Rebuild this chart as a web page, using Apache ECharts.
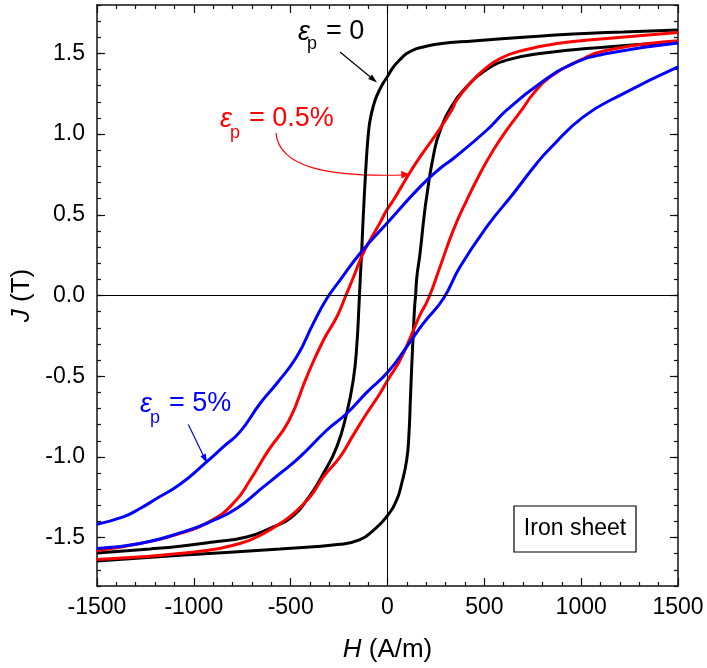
<!DOCTYPE html>
<html>
<head>
<meta charset="utf-8">
<script src="https://cdn.jsdelivr.net/npm/echarts@6/dist/echarts.min.js"></script>
<style>
  html, body { margin: 0; padding: 0; background: #fff; }
  #chart { width: 707px; height: 668px; }
</style>
</head>
<body>
<div id="chart"></div>
<script>
// J(H) loops of the iron sheet (H in A/m, J in T)
var blackDownH = [1500, 1218, 959, 701, 443, 271, 185, 151, 99, 65, 30, 4, -30, -56, -73, -90, -99, -107, -116, -121, -128, -133, -140, -146, -159, -177, -211, -262, -331, -417, -503, -590, -727, -899, -1071, -1226, -1500];
var blackDownJ = [1.645, 1.633, 1.620, 1.600, 1.577, 1.560, 1.540, 1.530, 1.499, 1.462, 1.415, 1.365, 1.300, 1.235, 1.175, 1.086, 1.000, 0.880, 0.700, 0.590, 0.420, 0.280, 0.120, -0.030, -0.318, -0.525, -0.731, -0.938, -1.103, -1.268, -1.380, -1.434, -1.496, -1.527, -1.553, -1.570, -1.595];
var blackUpH = [-1500, -1071, -555, -245, -142, -73, -4, 47, 73, 99, 111, 118, 125, 133, 140, 145, 152, 168, 185, 202, 236, 271, 340, 409, 495, 615, 787, 1132, 1500];
var blackUpJ = [-1.645, -1.610, -1.570, -1.542, -1.513, -1.455, -1.370, -1.268, -1.165, -1.020, -0.855, -0.650, -0.442, -0.235, -0.070, 0.000, 0.120, 0.260, 0.450, 0.610, 0.860, 1.020, 1.190, 1.293, 1.386, 1.458, 1.499, 1.540, 1.571];

var redDownH = [1500, 1132, 874, 701, 581, 495, 426, 357, 331, 254, 168, 107, 30, -4, -39, -90, -130, -177, -215, -262, -331, -417, -510, -615, -710, -790, -910, -1090, -1278, -1500];
var redDownJ = [1.630, 1.592, 1.561, 1.520, 1.468, 1.396, 1.313, 1.210, 1.148, 1.004, 0.859, 0.745, 0.590, 0.529, 0.450, 0.343, 0.250, 0.110, 0.000, -0.133, -0.277, -0.504, -0.778, -0.960, -1.145, -1.280, -1.395, -1.482, -1.537, -1.582];
var redUpH = [-1500, -1020, -762, -641, -555, -486, -400, -331, -245, -177, -107, -39, 3, 65, 125, 168, 211, 271, 340, 409, 478, 546, 615, 692, 753, 839, 994, 1132, 1500];
var redUpJ = [-1.636, -1.592, -1.537, -1.475, -1.413, -1.351, -1.248, -1.124, -1.000, -0.865, -0.730, -0.607, -0.520, -0.400, -0.240, -0.120, -0.020, 0.177, 0.405, 0.590, 0.756, 0.900, 1.024, 1.148, 1.251, 1.354, 1.458, 1.520, 1.578];

var blueDownH = [1500, 1132, 959, 787, 615, 512, 340, 271, 168, -4, -142, -245, -314, -383, -469, -572, -658, -762, -848, -934, -1071, -1192, -1278, -1365, -1500];
var blueDownJ = [1.565, 1.499, 1.437, 1.314, 1.148, 1.024, 0.849, 0.787, 0.673, 0.446, 0.260, 0.095, -0.020, -0.173, -0.380, -0.545, -0.669, -0.845, -0.938, -1.031, -1.170, -1.258, -1.320, -1.372, -1.417];
var blueUpH = [-1500, -1278, -1054, -917, -779, -641, -555, -452, -314, -211, -107, 3, 99, 185, 288, 374, 512, 650, 770, 839, 1011, 1218, 1500];
var blueUpJ = [-1.568, -1.537, -1.465, -1.403, -1.320, -1.186, -1.103, -1.000, -0.835, -0.731, -0.600, -0.473, -0.318, -0.173, -0.020, 0.177, 0.425, 0.632, 0.818, 0.911, 1.107, 1.251, 1.416];

var xTicks = [-1500, 1500, 500];       // min, max, step
var yMajor = [-1.5, -1.0, -0.5, 0, 0.5, 1.0, 1.5];

var font = 'Liberation Sans, Arial, Helvetica, sans-serif';
var chart = echarts.init(document.getElementById('chart'), null, { renderer: 'canvas' });

function zip(h, j) {
  return h.map(function (x, i) { return [x, j[i]]; });
}

function branch(h, j, color, z) {
  return {
    type: 'line',
    data: zip(h, j),
    showSymbol: false,
    symbol: 'none',
    smooth: 0.5,
    silent: true,
    z: z,
    lineStyle: { color: color, width: 3 },
    itemStyle: { color: color }
  };
}

function xAxisOf(pos) {
  return {
    type: 'value', position: pos,
    min: xTicks[0], max: xTicks[1], interval: xTicks[2],
    axisLine: { onZero: false, lineStyle: { color: '#111', width: 1.5 } },
    axisTick: { inside: true, length: 8, lineStyle: { color: '#111', width: 1.2 } },
    minorTick: { show: true, splitNumber: 5, length: 4, lineStyle: { color: '#111', width: 1.2 } },
    splitLine: { show: false },
    axisLabel: {
      show: pos == 'bottom', fontSize: 23, color: '#000', margin: 10, fontFamily: font,
      formatter: function (v) { return String(v); }
    }
  };
}

function yAxisOf(pos, major) {
  var ax = {
    type: 'value', position: pos,
    min: -1.8, max: 1.8, interval: 0.1,
    axisLine: { show: !major, onZero: false, lineStyle: { color: '#111', width: 1.5 } },
    axisTick: { inside: true, length: 4, lineStyle: { color: '#111', width: 1.2 } },
    splitLine: { show: false },
    axisLabel: { show: false }
  };
  if (major) {
    ax.axisTick.length = 8;
    ax.axisTick.customValues = yMajor;
  }
  return ax;
}

var xBottom = xAxisOf('bottom');
xBottom.name = '{i|H} (A/m)';
xBottom.nameLocation = 'middle';
xBottom.nameGap = 51;
xBottom.nameTextStyle = {
  fontSize: 26, color: '#000', fontFamily: font,
  rich: { i: { fontStyle: 'italic', fontSize: 26, color: '#000', fontFamily: font } }
};

var yLeft = yAxisOf('left', false);
yLeft.axisLabel = {
  show: true, fontSize: 23, color: '#000', margin: 12, fontFamily: font,
  formatter: function (v) {
    var r = Math.round(v * 10);
    return r % 5 === 0 ? (r / 10).toFixed(1) : '';
  }
};
yLeft.name = '{i|J} (T)';
yLeft.nameLocation = 'middle';
yLeft.nameGap = 60;
yLeft.nameTextStyle = {
  fontSize: 26, color: '#000', fontFamily: font,
  rich: { i: { fontStyle: 'italic', fontSize: 26, color: '#000', fontFamily: font } }
};

function txt(x, y, s, size, color, italic) {
  return {
    type: 'text', x: x, y: y, silent: true,
    style: {
      text: s, fontSize: size, fontFamily: font, fill: color,
      fontStyle: italic ? 'italic' : 'normal',
      align: 'left', verticalAlign: 'middle'
    }
  };
}

function arrow(x1, y1, x2, y2, color) {
  var dx = x2 - x1, dy = y2 - y1, len = Math.sqrt(dx * dx + dy * dy);
  var ux = dx / len, uy = dy / len, hl = 9, hw = 3;
  var bx = x2 - ux * hl, by = y2 - uy * hl;
  return [
    { type: 'line', silent: true, shape: { x1: x1, y1: y1, x2: bx, y2: by }, style: { stroke: color, lineWidth: 1.2 } },
    { type: 'polygon', silent: true,
      shape: { points: [[x2, y2], [bx - uy * hw, by + ux * hw], [bx + uy * hw, by - ux * hw]] },
      style: { fill: color } }
  ];
}

var graphics = [
  // eps_p = 0
  txt(298, 32, 'ε', 27, '#000', true),
  txt(307, 44, 'p', 18, '#000', false),
  txt(326, 32, '= 0', 27, '#000', false),
  // eps_p = 0.5%
  txt(220, 119, 'ε', 27, '#ff0000', true),
  txt(230, 133, 'p', 18, '#ff0000', false),
  txt(249, 119, '= 0.5%', 27, '#ff0000', false),
  { type: 'bezierCurve', silent: true,
    shape: { x1: 276, y1: 133, cpx1: 279, cpy1: 168, cpx2: 330, cpy2: 177, x2: 402, y2: 175 },
    style: { stroke: '#ff0000', lineWidth: 1.2, fill: null } },
  { type: 'polygon', silent: true,
    shape: { points: [[410, 174.3], [401, 171], [401.5, 178.5]] },
    style: { fill: '#ff0000' } },
  // eps_p = 5%
  txt(140, 404, 'ε', 27, '#0000ff', true),
  txt(150, 418, 'p', 18, '#0000ff', false),
  txt(169, 404, '= 5%', 27, '#0000ff', false),
  // sample box
  { type: 'rect', silent: true, shape: { x: 514, y: 506, width: 122, height: 46 },
    style: { fill: '#fff', stroke: '#000', lineWidth: 1.2 } },
  { type: 'text', x: 575, y: 529, silent: true,
    style: { text: 'Iron sheet', fontSize: 23, fontFamily: font, fill: '#000', align: 'center', verticalAlign: 'middle' } }
].concat(arrow(340, 52, 377, 82.5, '#000'), arrow(188.3, 424.5, 207, 463, '#0000ff'));

var option = {
  animation: false,
  backgroundColor: '#fff',
  grid: { left: 97, top: 5, width: 581, height: 581, containLabel: false },
  xAxis: [xBottom, xAxisOf('top')],
  yAxis: [yLeft, yAxisOf('right', false), yAxisOf('left', true), yAxisOf('right', true)],
  series: [
    { type: 'line', data: [], silent: true, z: 1,
      markLine: {
        silent: true, symbol: 'none', animation: false,
        label: { show: false },
        lineStyle: { color: '#000', width: 1, type: 'solid' },
        data: [{ xAxis: 0 }, { yAxis: 0 }]
      } },
    branch(blackDownH, blackDownJ, '#000000', 2),
    branch(blackUpH, blackUpJ, '#000000', 2),
    branch(redDownH, redDownJ, '#ff0000', 3),
    branch(redUpH, redUpJ, '#ff0000', 3),
    branch(blueDownH, blueDownJ, '#0000ff', 4),
    branch(blueUpH, blueUpJ, '#0000ff', 4)
  ],
  graphic: graphics
};

chart.setOption(option);
</script>
</body>
</html>
